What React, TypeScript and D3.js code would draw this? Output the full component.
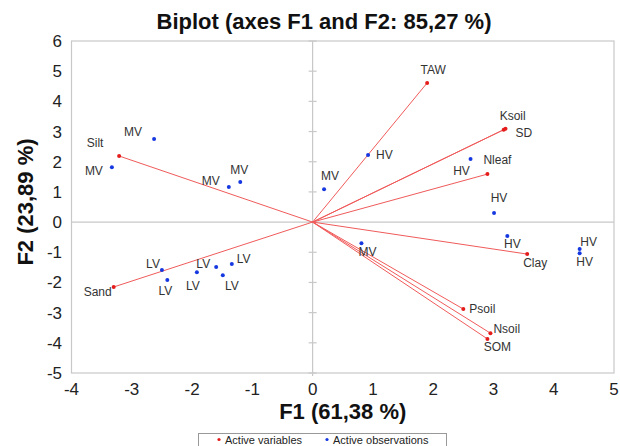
import React from "react";
import * as d3 from "d3";

// Active variables (F1, F2)
const varNames = ["TAW", "Ksoil", "SD", "Nleaf", "Clay", "Psoil", "Nsoil", "SOM", "Silt", "Sand"];
const varF1 = [1.9, 3.17, 3.2, 2.9, 3.56, 2.5, 2.95, 2.9, -3.21, -3.3];
const varF2 = [4.61, 3.06, 3.09, 1.59, -1.06, -2.88, -3.68, -3.87, 2.19, -2.15];

// Active observations (F1, F2)
const obsNames = ["MV", "MV", "MV", "MV", "LV", "LV", "LV", "LV", "LV", "LV", "MV", "HV", "HV", "HV", "HV", "HV", "HV", "MV"];
const obsF1 = [-2.63, -3.33, -1.39, -1.2, -2.5, -2.41, -1.92, -1.6, -1.49, -1.34, 0.19, 0.92, 2.62, 3.01, 3.23, 4.43, 4.43, 0.81];
const obsF2 = [2.75, 1.82, 1.16, 1.33, -1.59, -1.92, -1.66, -1.49, -1.76, -1.39, 1.09, 2.22, 2.09, 0.3, -0.46, -0.89, -1.03, -0.7];

const xTicks = [-4, -3, -2, -1, 0, 1, 2, 3, 4, 5];
const yTicks = [-5, -4, -3, -2, -1, 0, 1, 2, 3, 4, 5, 6];

const title = "Biplot (axes F1 and F2: 85,27 %)";
const xTitle = "F1 (61,38 %)";
const yTitle = "F2 (23,89 %)";
const legendLabels = ["Active variables", "Active observations"];

// label placement: [dx, dy, anchor]
type LP = [number, number, string];
const varLabelPos: LP[] = [
  [6, -13, "middle"],
  [9, -14, "middle"],
  [10, 4, "start"],
  [10, -14, "middle"],
  [8, 9, "middle"],
  [6, 0, "start"],
  [3, -4, "start"],
  [10, 8, "middle"],
  [-24, -13, "middle"],
  [-2, 5, "end"],
];
const obsLabelPos: LP[] = [
  [-12, -7, "end"],
  [-9, 4, "end"],
  [-9, -6, "end"],
  [-1, -12, "middle"],
  [-2, -6, "end"],
  [-2, 11, "middle"],
  [-4, 14, "middle"],
  [-6, -3, "end"],
  [9, 11, "middle"],
  [5, -5, "start"],
  [6, -13, "middle"],
  [8, 0, "start"],
  [-9, 12, "middle"],
  [5, -15, "middle"],
  [5, 8, "middle"],
  [9, -7, "middle"],
  [5, 9, "middle"],
  [6, 9, "middle"],
];

const W = 620;
const H = 446;
const left = 71.5;
const right = 614;
const top = 41;
const bottom = 373;
const FONT = "'Liberation Sans', Arial, sans-serif";

export default function App() {
  const x = d3.scaleLinear().domain([-4, 5]).range([left, right]);
  const y = d3.scaleLinear().domain([-5, 6]).range([bottom, top]);
  const x0 = x(0);
  const y0 = y(0);
  const red = "#e51c1c";
  const lineRed = "#f05a5a";
  const blue = "#1638e0";
  const grey = "#c8c8c8";

  return (
    <svg
      width={W}
      height={H}
      style={{ position: "absolute", left: 0, top: 0, background: "#fff" }}
      fontFamily={FONT}
    >
      <rect x={0} y={0} width={W} height={H} fill="#fff" />
      {/* frame */}
      <rect x={left} y={top} width={right - left} height={bottom - top} fill="none" stroke={grey} strokeWidth={1.2} />
      {/* zero lines */}
      <line x1={left} x2={right} y1={y0} y2={y0} stroke={grey} strokeWidth={1.2} />
      <line x1={x0} x2={x0} y1={top} y2={bottom + 3} stroke={grey} strokeWidth={1.2} />
      {yTicks.map((t) => (
        <line key={"yt" + t} x1={x0 - 4} x2={x0 + 4} y1={y(t)} y2={y(t)} stroke={grey} strokeWidth={1.2} />
      ))}

      {/* title */}
      <text x={324} y={29} textAnchor="middle" fontSize={22} fontWeight="bold" fill="#111">
        {title}
      </text>

      {/* tick labels */}
      {xTicks.map((t) => (
        <text key={"xl" + t} x={x(t)} y={395} textAnchor="middle" fontSize={17} fill="#222">
          {t}
        </text>
      ))}
      {yTicks.map((t) => (
        <text key={"yl" + t} x={62} y={y(t) + 6} textAnchor="end" fontSize={17} fill="#222">
          {t}
        </text>
      ))}

      {/* axis titles */}
      <text x={(left + right) / 2} y={419} textAnchor="middle" fontSize={22} fontWeight="bold" fill="#111">
        {xTitle}
      </text>
      <text
        transform={`translate(33, ${(top + bottom) / 2 - 5}) rotate(-90)`}
        textAnchor="middle"
        fontSize={22}
        fontWeight="bold"
        fill="#111"
      >
        {yTitle}
      </text>

      {/* variable vectors */}
      {varNames.map((n, i) => (
        <line key={"vl" + i} x1={x0} y1={y0} x2={x(varF1[i])} y2={y(varF2[i])} stroke={lineRed} strokeWidth={1} />
      ))}
      {varNames.map((n, i) => (
        <circle key={"vc" + i} cx={x(varF1[i])} cy={y(varF2[i])} r={2} fill={red} />
      ))}
      {varNames.map((n, i) => (
        <text
          key={"vt" + i}
          x={x(varF1[i]) + varLabelPos[i][0]}
          y={y(varF2[i]) + varLabelPos[i][1] + 4}
          textAnchor={varLabelPos[i][2] as any}
          fontSize={12}
          fill="#333"
        >
          {n}
        </text>
      ))}

      {/* observations */}
      {obsNames.map((n, i) => (
        <circle key={"oc" + i} cx={x(obsF1[i])} cy={y(obsF2[i])} r={2} fill={blue} />
      ))}
      {obsNames.map((n, i) => (
        <text
          key={"ot" + i}
          x={x(obsF1[i]) + obsLabelPos[i][0]}
          y={y(obsF2[i]) + obsLabelPos[i][1] + 4}
          textAnchor={obsLabelPos[i][2] as any}
          fontSize={12}
          fill="#333"
        >
          {n}
        </text>
      ))}

      {/* legend */}
      <rect x={198.5} y={433.5} width={248} height={20} fill="#fff" stroke="#999" strokeWidth={1} />
      <circle cx={219} cy={439.5} r={1.6} fill={red} />
      <text x={225} y={443.5} fontSize={11} fill="#222">
        {legendLabels[0]}
      </text>
      <circle cx={327} cy={439.5} r={1.6} fill={blue} />
      <text x={333} y={443.5} fontSize={11} fill="#222">
        {legendLabels[1]}
      </text>
    </svg>
  );
}
